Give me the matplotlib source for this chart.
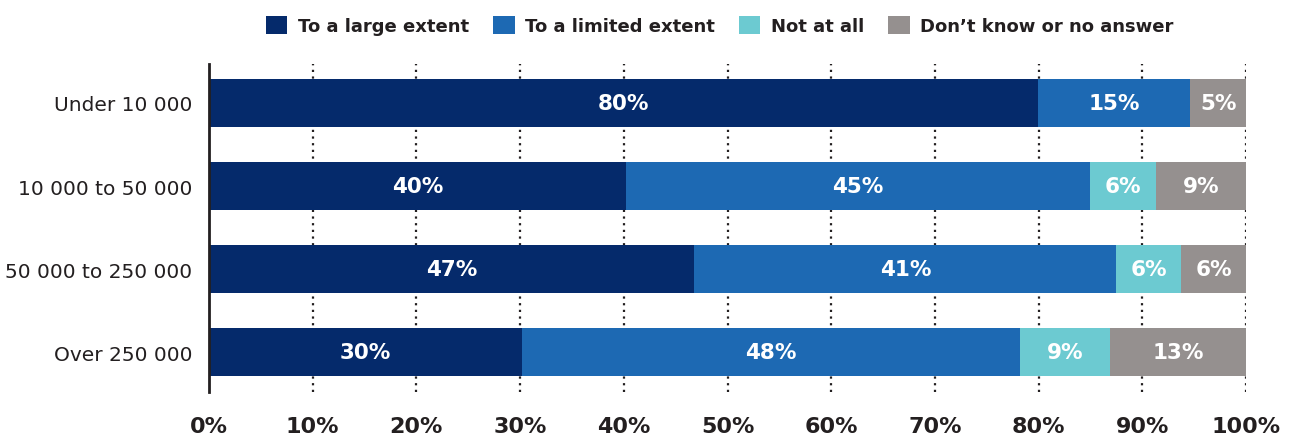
import numpy as np
import matplotlib
matplotlib.use("Agg")
import matplotlib.pyplot as plt
from matplotlib.patches import Patch

plt.rcParams['font.family'] = ['DejaVu Sans']

groups = ["Under 10 000", "10 000 to 50 000", "50 000 to 250 000", "Over 250 000"]
series = ["To a large extent", "To a limited extent", "Not at all", "Don\u2019t know or no answer"]
large = [79.9, 40.2, 46.8, 30.2]
limited = [14.7, 44.7, 40.7, 48.0]
not_at_all = [0.0, 6.4, 6.2, 8.7]
dont_know = [5.4, 8.7, 6.3, 13.1]
colors = ["#052a6b", "#1d69b3", "#6ccad1", "#95908f"]
ticks = list(range(0, 101, 10))

fig = plt.figure(figsize=(12.9, 4.39), dpi=100)
ax = fig.add_axes([0.162, 0.105, 0.804, 0.747])

y = np.arange(len(groups))
left = np.zeros(len(groups))
for vals, col in zip([large, limited, not_at_all, dont_know], colors):
    vals = np.array(vals)
    ax.barh(y, vals, left=left, height=0.58, color=col, zorder=3)
    for yi, l, v in zip(y, left, vals):
        if v > 0:
            ax.text(l + v / 2, yi, f"{v:.0f}%", ha='center', va='center',
                    color='white', fontsize=15.5, fontweight='bold', zorder=4)
    left = left + vals

ax.set_xlim(0, 100)
ax.set_ylim(3.48, -0.47)
ax.set_xticks(ticks)
ax.set_xticklabels([f"{t}%" for t in ticks], fontsize=16, fontweight='bold', color='#231f20')
ax.set_yticks(y)
ax.set_yticklabels(groups, fontsize=14.5, color='#231f20')
ax.tick_params(axis='both', length=0)
ax.tick_params(axis='x', pad=17)
ax.tick_params(axis='y', pad=12)
for t in ticks[1:]:
    ax.axvline(t, color='#231f20', linestyle=(0, (1, 2)), linewidth=1.6, zorder=1)
for s in ['top', 'right', 'bottom']:
    ax.spines[s].set_visible(False)
ax.spines['left'].set_linewidth(2)
ax.spines['left'].set_color('#231f20')
ax.spines['left'].set_zorder(5)

handles = [Patch(facecolor=c, edgecolor='none') for c in colors]
fig.legend(handles, series, loc='center', bbox_to_anchor=(0.558, 0.94), ncol=4,
           frameon=False, prop={'size': 13, 'weight': 'bold'},
           handlelength=1.2, handleheight=1.2, handletextpad=0.6, columnspacing=1.3)
for txt in fig.legends[0].get_texts():
    txt.set_color('#231f20')

fig.savefig("out.png", dpi=100)
